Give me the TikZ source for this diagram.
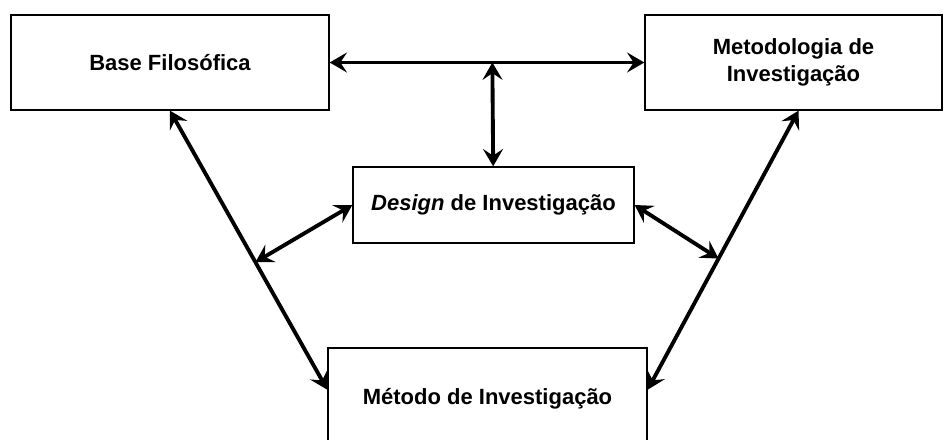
\documentclass[tikz,border=0pt]{standalone}
\usepackage{fontspec}
\setmainfont{Liberation Sans}
\usetikzlibrary{arrows.meta,positioning,calc}

\begin{document}
\begin{tikzpicture}[x=0.75pt, y=-0.75pt,
  caixa/.style={rectangle, draw=black, line width=1pt, align=center,
    inner sep=0pt, font=\bfseries\fontsize{16.5}{20}\selectfont},
  seta/.style={line width=2.9pt, {Stealth[length=13pt, width=15pt, inset=5pt]}-{Stealth[length=13pt, width=15pt, inset=5pt]}}]
  \useasboundingbox (0,0) rectangle (952,439);

  \node (base) [caixa, minimum width=238.5pt, minimum height=71.25pt] at (170,62.5) {Base Filosófica};
  \node (metodologia) [caixa, minimum width=222.75pt, minimum height=71.25pt] at (793.5,62.5) {Metodologia de\\Investigação};
  \node (design) [caixa, minimum width=210.75pt, minimum height=57pt] at (493.5,205) {\textit{Design} de Investigação};
  \node (metodo) [caixa, minimum width=239.25pt, minimum height=76.5pt] at (487.5,399) {Método de Investigação};

  % ligacoes principais
  \draw [seta] (base) -- (metodologia) coordinate[pos=0.517] (topo);
  \draw [seta] (base.south) -- ($(metodo.north west)!0.41!(metodo.south west)$) coordinate[pos=0.543] (esq);
  \draw [seta] ($(metodologia.south)+(5,0)$) -- ($(metodo.north east)!0.41!(metodo.south east)$) coordinate[pos=0.53] (dir);

  % ligacoes ao design
  \draw [seta] (topo) -- (design);
  \draw [seta] (esq) -- (design.west);
  \draw [seta] (design.east) -- (dir);
\end{tikzpicture}
\end{document}
